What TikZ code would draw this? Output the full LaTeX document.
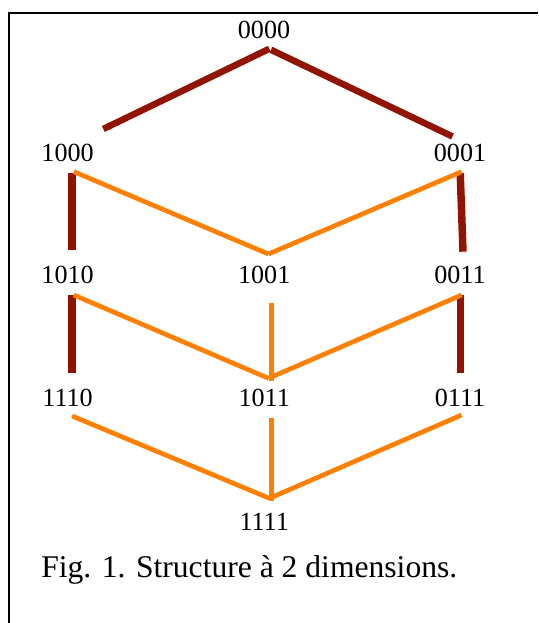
\documentclass[tikz,border=0pt]{standalone}
\usepackage{fontspec}
\setmainfont{Liberation Serif}
\definecolor{hdark}{RGB}{145,20,0}
\definecolor{horange}{RGB}{255,128,0}
\begin{document}
\begin{tikzpicture}[x=0.75pt,y=-0.75pt,
  lab/.style={anchor=base,inner sep=0pt,font=\fontsize{19.6}{22}\selectfont},
  captext/.style={anchor=base west,inner sep=0pt,font=\fontsize{23.7}{28}\selectfont},
  darkdiag/.style={draw=hdark,line width=4.9pt,line cap=butt},
  darkvert/.style={draw=hdark,line width=5.6pt,line cap=butt},
  oradiag/.style={draw=horange,line width=3.5pt,line cap=butt},
  oravert/.style={draw=horange,line width=3.9pt,line cap=butt},
  framestyle/.style={draw=black,line width=1.25pt}]
\useasboundingbox (0,0) rectangle (538,623);
% frame
\coordinate (fb) at (9,623);
\coordinate (fc) at (9,12.7);
\coordinate (fr) at (538,12.7);
\draw[framestyle] (fb) -- (fc) -- (fr);
% labels
\node[lab] (n0000) at (264,38.3) {0000};
\node[lab] (n1000) at (67.6,161.7) {1000};
\node[lab] (n0001) at (460,161.7) {0001};
\node[lab] (n1010) at (67.6,283.3) {1010};
\node[lab] (n1001) at (264.2,283.3) {1001};
\node[lab] (n0011) at (460,283.3) {0011};
\node[lab] (n1110) at (67.6,406.7) {1110};
\node[lab] (n1011) at (264.2,406.7) {1011};
\node[lab] (n0111) at (460,406.7) {0111};
\node[lab] (n1111) at (264.2,530) {1111};
\node[captext] (caption) at (41,577.7) {Fig. 1. Structure à 2 dimensions.};
% connector end points
\coordinate (a1) at (103.3,129);
\coordinate (a2) at (269.3,48.8);
\coordinate (a3) at (271,49.8);
\coordinate (a4) at (452.5,136.5);
\coordinate (b1) at (72,173);
\coordinate (b2) at (72,250);
\coordinate (b3) at (460.2,173);
\coordinate (b4) at (463,251.7);
\coordinate (b5) at (72,295);
\coordinate (b6) at (72,372.7);
\coordinate (b7) at (460.5,295);
\coordinate (b8) at (460.5,372.7);
\coordinate (c1) at (73.8,171.7);
\coordinate (c2) at (268.4,254);
\coordinate (c3) at (461.6,171.7);
\coordinate (d1) at (73.8,295);
\coordinate (d2) at (268.4,378.3);
\coordinate (d3) at (461.6,295);
\coordinate (d4) at (271.1,303.3);
\coordinate (d5) at (271.1,380.5);
\coordinate (e1) at (72.1,416);
\coordinate (e2) at (269.4,498.3);
\coordinate (e3) at (461.6,415);
\coordinate (e4) at (271.1,418.3);
\coordinate (e5) at (271.1,500.7);
% dark red edges
\draw[darkdiag] (a1) -- (a2);
\draw[darkdiag] (a3) -- (a4);
\draw[darkvert] (b1) -- (b2);
\draw[darkvert] (b3) -- (b4);
\draw[darkvert] (b5) -- (b6);
\draw[darkvert] (b7) -- (b8);
% orange edges
\draw[oradiag] (c1) -- (c2);
\draw[oradiag] (c2) -- (c3);
\draw[oradiag] (d1) -- (d2);
\draw[oradiag] (d2) -- (d3);
\draw[oravert] (d4) -- (d5);
\draw[oradiag] (e1) -- (e2);
\draw[oradiag] (e2) -- (e3);
\draw[oravert] (e4) -- (e5);
\end{tikzpicture}
\end{document}
